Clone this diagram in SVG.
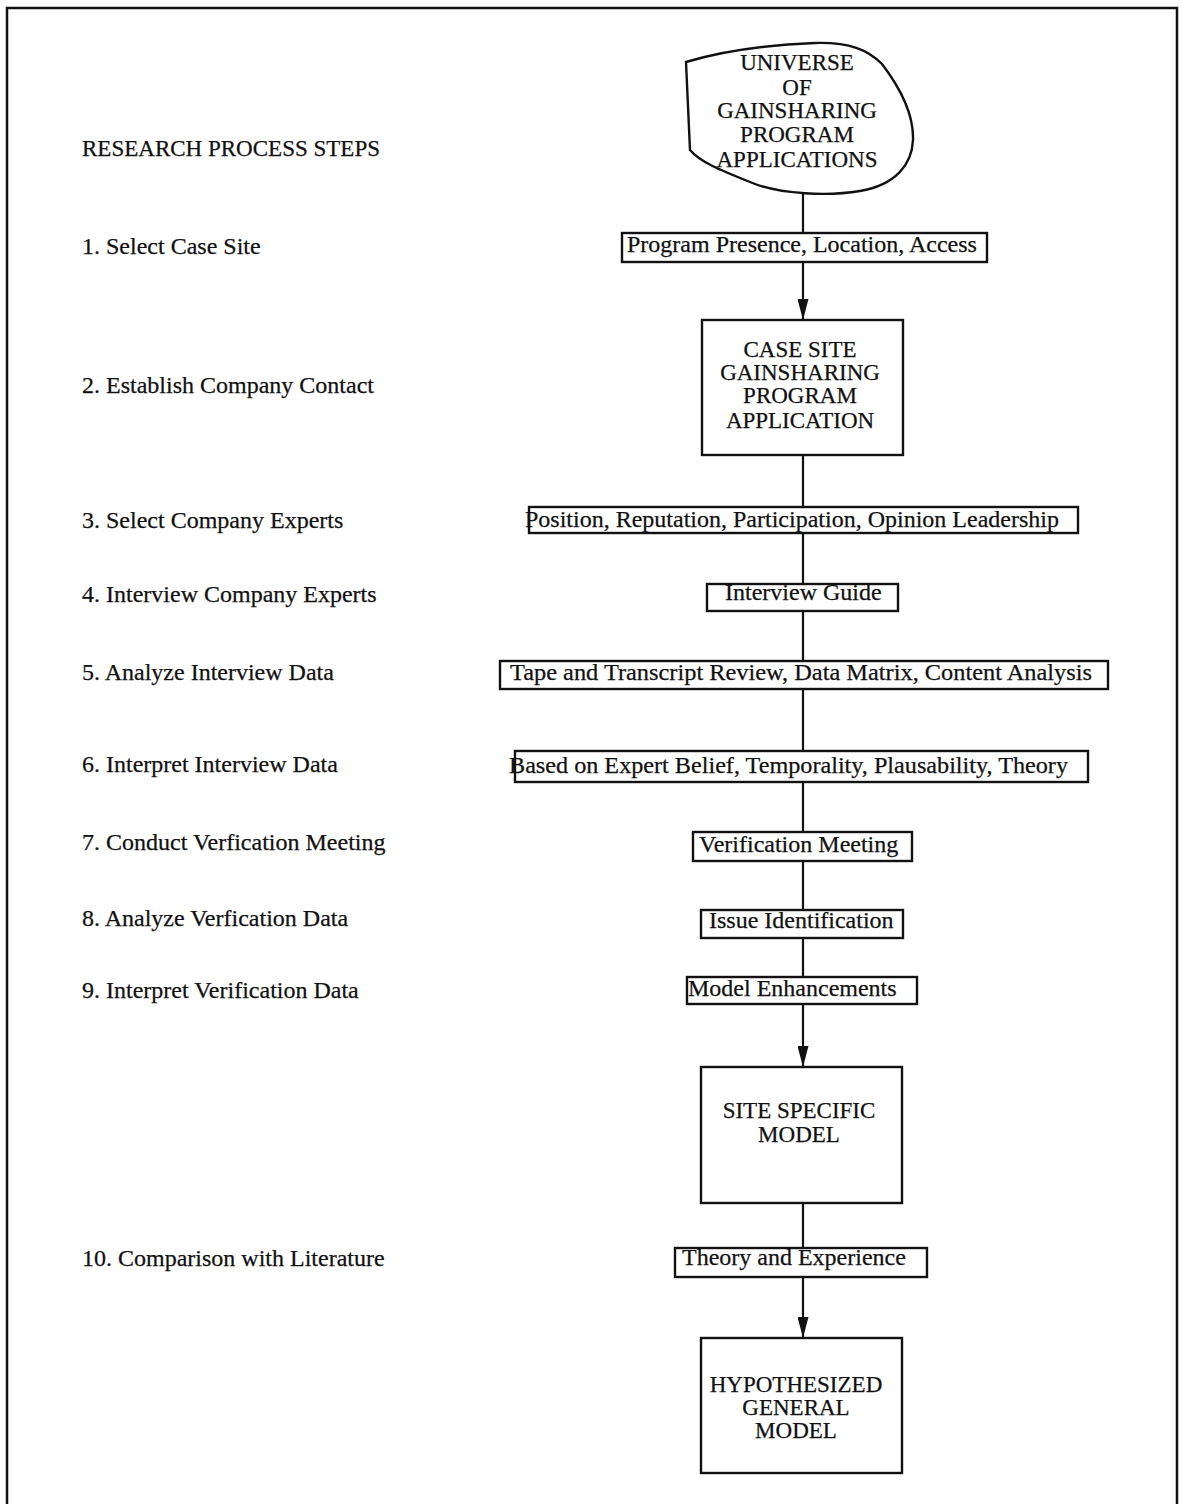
<svg xmlns="http://www.w3.org/2000/svg" width="1182" height="1504" viewBox="0 0 1182 1504">
  <style>
    text { font-family: "Liberation Serif", "Times New Roman", serif; font-size: 24px; fill: #111; stroke: #111; stroke-width: 0.25; }
    .cap { font-size: 23px; text-anchor: middle; }
    .box { fill: #fff; stroke: #111; stroke-width: 2.4; }
    .wire { stroke: #111; stroke-width: 2.2; fill: none; }
    .frame { stroke: #111; stroke-width: 2.5; fill: none; }
  </style>
  <defs>
    <marker id="arrow" markerUnits="userSpaceOnUse" markerWidth="21" markerHeight="11" refX="21" refY="5.5" orient="auto">
      <path d="M0,0 L21,5.5 L0,11 Z" fill="#111"/>
    </marker>
  </defs>

  <rect width="1182" height="1504" fill="#fff"/>
  <!-- page frame: left, top and right edges -->
  <path class="frame" d="M7,1504 V8 H1177 V1504"/>

  <!-- step list on the left -->
  <g id="steps">
    <text x="82" y="156" font-size="23" textLength="298" lengthAdjust="spacingAndGlyphs">RESEARCH PROCESS STEPS</text>
    <text x="82" y="254">1. Select Case Site</text>
    <text x="82" y="393">2. Establish Company Contact</text>
    <text x="82" y="528">3. Select Company Experts</text>
    <text x="82" y="602">4. Interview Company Experts</text>
    <text x="82" y="680">5. Analyze Interview Data</text>
    <text x="82" y="772">6. Interpret Interview Data</text>
    <text x="82" y="850">7. Conduct Verfication Meeting</text>
    <text x="82" y="926">8. Analyze Verfication Data</text>
    <text x="82" y="998">9. Interpret Verification Data</text>
    <text x="82" y="1266">10. Comparison with Literature</text>
  </g>

  <!-- connectors along the main spine -->
  <g id="connectors">
    <line class="wire" x1="803" y1="194" x2="803" y2="233"/>
    <line class="wire" x1="803" y1="262" x2="803" y2="320" marker-end="url(#arrow)"/>
    <line class="wire" x1="803" y1="455" x2="803" y2="507"/>
    <line class="wire" x1="803" y1="533" x2="803" y2="584"/>
    <line class="wire" x1="803" y1="611" x2="803" y2="661"/>
    <line class="wire" x1="803" y1="689" x2="803" y2="751"/>
    <line class="wire" x1="803" y1="782" x2="803" y2="832"/>
    <line class="wire" x1="803" y1="861" x2="803" y2="910"/>
    <line class="wire" x1="803" y1="938" x2="803" y2="977"/>
    <line class="wire" x1="803" y1="1004" x2="803" y2="1067" marker-end="url(#arrow)"/>
    <line class="wire" x1="803" y1="1203" x2="803" y2="1248"/>
    <line class="wire" x1="803" y1="1277" x2="803" y2="1338" marker-end="url(#arrow)"/>
  </g>

  <g id="universe">
    <path class="box" d="M686,62 Q740,46 815,43 C850,42 868,50 882,64 C898,85 914,112 913,140 C912,165 895,185 860,191 C830,196 780,195 750,182 C720,170 700,162 690,150 Z"/>
    <text class="cap" x="797" y="70">UNIVERSE</text>
    <text class="cap" x="797" y="95">OF</text>
    <text class="cap" x="797" y="118">GAINSHARING</text>
    <text class="cap" x="797" y="142">PROGRAM</text>
    <text class="cap" x="797" y="167">APPLICATIONS</text>
  </g>

  <g id="site-criteria">
    <rect class="box" x="622" y="233" width="365" height="29"/>
    <text x="627" y="252">Program Presence, Location, Access</text>
  </g>

  <g id="case-site">
    <rect class="box" x="702" y="320" width="201" height="135"/>
    <text class="cap" x="800" y="357">CASE SITE</text>
    <text class="cap" x="800" y="380">GAINSHARING</text>
    <text class="cap" x="800" y="403">PROGRAM</text>
    <text class="cap" x="800" y="428">APPLICATION</text>
  </g>

  <g id="expert-criteria">
    <rect class="box" x="529" y="507" width="549" height="26"/>
    <text x="525" y="527">Position, Reputation, Participation, Opinion Leadership</text>
  </g>

  <g id="interview-guide">
    <rect class="box" x="707" y="584" width="191" height="27"/>
    <text x="725" y="600">Interview Guide</text>
  </g>

  <g id="analysis">
    <rect class="box" x="500" y="661" width="608" height="28"/>
    <text x="510" y="680" textLength="582" lengthAdjust="spacingAndGlyphs">Tape and Transcript Review, Data Matrix, Content Analysis</text>
  </g>

  <g id="interpretation">
    <rect class="box" x="515" y="751" width="573" height="31"/>
    <text x="509" y="773" textLength="559" lengthAdjust="spacingAndGlyphs">Based on Expert Belief, Temporality, Plausability, Theory</text>
  </g>

  <g id="verification-meeting">
    <rect class="box" x="693" y="832" width="219" height="29"/>
    <text x="699" y="852">Verification Meeting</text>
  </g>

  <g id="issue-identification">
    <rect class="box" x="701" y="910" width="202" height="28"/>
    <text x="709" y="928">Issue Identification</text>
  </g>

  <g id="model-enhancements">
    <rect class="box" x="687" y="977" width="230" height="27"/>
    <text x="688" y="996">Model Enhancements</text>
  </g>

  <g id="site-model">
    <rect class="box" x="701" y="1067" width="201" height="136"/>
    <text class="cap" x="799" y="1118">SITE SPECIFIC</text>
    <text class="cap" x="799" y="1142">MODEL</text>
  </g>

  <g id="literature">
    <rect class="box" x="675" y="1248" width="252" height="29"/>
    <text x="682" y="1265">Theory and Experience</text>
  </g>

  <g id="general-model">
    <rect class="box" x="701" y="1338" width="201" height="135"/>
    <text class="cap" x="796" y="1392">HYPOTHESIZED</text>
    <text class="cap" x="796" y="1415">GENERAL</text>
    <text class="cap" x="796" y="1438">MODEL</text>
  </g>
</svg>
